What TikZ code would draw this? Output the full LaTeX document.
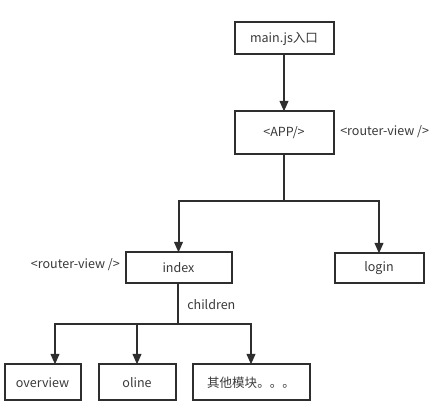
\documentclass[tikz,border=0pt]{standalone}
\usepackage{fontspec}
\setmainfont{Noto Sans CJK SC}
\usetikzlibrary{arrows.meta}
\definecolor{ln}{HTML}{2E2E2E}
\definecolor{tx}{HTML}{3A3A3A}
\tikzset{
  box/.style={draw=ln, line width=1.5pt, inner sep=0pt, outer sep=0pt, text=tx, font=\fontsize{9.4pt}{11pt}\selectfont},
  lbl/.style={inner sep=0pt, text=tx, font=\fontsize{9.4pt}{11pt}\selectfont},
  conn/.style={draw=ln, line width=1.5pt},
  arr/.style={conn, -{Triangle[length=8pt,width=6.5pt]}}
}
\begin{document}
\begin{tikzpicture}[x=0.75pt,y=-0.75pt]
\useasboundingbox (0,0) rectangle (447,409);
\node[box, minimum width=99*0.75pt, minimum height=32*0.75pt] (main) at (284,38.5) {main.js入口};
\node[box, minimum width=99*0.75pt, minimum height=43*0.75pt] (app) at (284,133) {<APP/>};
\node[lbl, anchor=west] (rv1) at (340,132) {<router-view />};
\node[box, minimum width=106*0.75pt, minimum height=31*0.75pt] (index) at (178.5,268) {index};
\node[lbl, anchor=east] (rv2) at (120,265) {<router-view />};
\node[box, minimum width=89*0.75pt, minimum height=30*0.75pt] (login) at (379,268.5) {login};
\node[lbl, anchor=west] (ch) at (187,305) {children};
\node[box, minimum width=76*0.75pt, minimum height=36*0.75pt] (ov) at (42.5,382.5) {overview};
\node[box, minimum width=77*0.75pt, minimum height=36*0.75pt] (ol) at (137,382.5) {oline};
\node[box, minimum width=117*0.75pt, minimum height=36*0.75pt] (other) at (251,382.5) {其他模块。。。};
\coordinate (j1) at (284,201);
\coordinate (j2) at (178,324);
\draw[arr] (main) -- (app);
\draw[conn] (app) -- (j1);
\draw[arr] (j1) -| (index);
\draw[arr] (j1) -| (login);
\draw[conn] (index.south -| j2) -- (j2);
\draw[arr] (j2) -| ([xshift=12.5*0.75pt]ov.north);
\draw[arr] (j2) -| (ol.north);
\draw[arr] (j2) -| (other.north);
\end{tikzpicture}
\end{document}
